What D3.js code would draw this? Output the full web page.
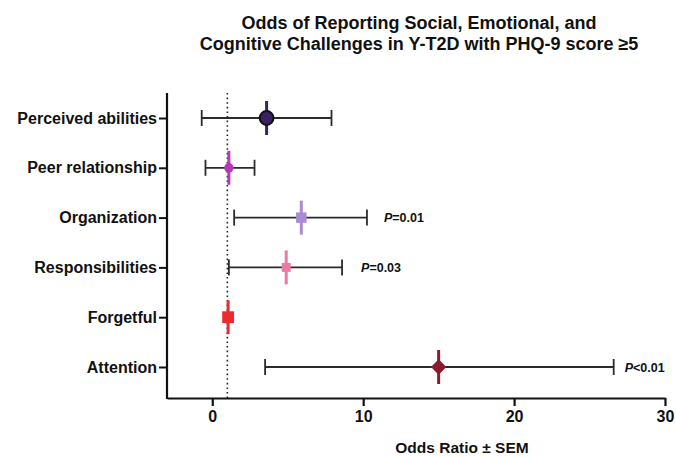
<!DOCTYPE html>
<html>
<head>
<meta charset="utf-8">
<script src="https://cdn.jsdelivr.net/npm/d3@7/dist/d3.min.js"></script>
<style>
  body { margin: 0; background: #fff; }
  svg text { font-family: "Liberation Sans", Arial, sans-serif; }
</style>
</head>
<body>
<div id="chart"></div>
<script>
// Data
const categories = ["Perceived abilities", "Peer relationship", "Organization", "Responsibilities", "Forgetful", "Attention"];
const oddsRatio = [3.6, 1.1, 5.9, 4.9, 1.05, 15.0];
const lowerErr = [-0.7, -0.45, 1.45, 1.1, 1.05, 3.5];
const upperErr = [7.9, 2.8, 10.25, 8.6, 1.05, 26.6];
const pLabels = ["", "", "=0.01", "=0.03", "", "<0.01"];
const markerShapes = ["circle", "circle", "square", "square", "square", "diamond"];
const markerColors = ["#3a2163", "#b53ab6", "#ab8ad4", "#ec7aa6", "#ee2a2f", "#8a1b2c"];
const xTicks = [0, 10, 20, 30];

const width = 676, height = 457;

const svg = d3.select("#chart").append("svg")
  .attr("width", width)
  .attr("height", height);

// scales
const xScale = d3.scaleLinear().domain([-3, 30]).range([167, 665]);
const yScale = d3.scalePoint().domain(categories).range([118, 367]);

const axisY0 = 93, axisY1 = 398;

// title
const title = svg.append("text")
  .attr("text-anchor", "middle")
  .attr("font-size", "18px")
  .attr("font-weight", "bold")
  .attr("fill", "#111");
title.append("tspan").attr("x", 419).attr("y", 29).text("Odds of Reporting Social, Emotional, and");
title.append("tspan").attr("x", 419).attr("y", 50).text("Cognitive Challenges in Y-T2D with PHQ-9 score \u22655");

// reference line at OR = 1
svg.append("line")
  .attr("x1", xScale(1)).attr("x2", xScale(1))
  .attr("y1", axisY0).attr("y2", axisY1)
  .attr("stroke", "#222")
  .attr("stroke-width", 1.6)
  .attr("stroke-dasharray", "1.6,3");

// x axis
const xAxis = svg.append("g")
  .attr("transform", `translate(0, ${axisY1})`)
  .call(d3.axisBottom(xScale).tickValues(xTicks).tickSize(8).tickPadding(5).tickSizeOuter(0));
xAxis.select(".domain").attr("stroke", "#111").attr("stroke-width", 2.2);
xAxis.selectAll(".tick line").attr("stroke", "#111").attr("stroke-width", 2.2);
xAxis.selectAll(".tick text")
  .attr("font-size", "16px")
  .attr("font-weight", "bold")
  .attr("fill", "#111");

// y axis
const yAxis = svg.append("g")
  .attr("transform", `translate(${xScale(-3)}, 0)`)
  .call(d3.axisLeft(yScale).tickSize(8).tickPadding(2));
yAxis.select(".domain").remove();
yAxis.append("line")
  .attr("x1", 0).attr("x2", 0)
  .attr("y1", axisY0).attr("y2", axisY1 + 1)
  .attr("stroke", "#111").attr("stroke-width", 2.2);
yAxis.selectAll(".tick line").attr("stroke", "#111").attr("stroke-width", 2);
yAxis.selectAll(".tick text")
  .attr("font-size", "16px")
  .attr("font-weight", "bold")
  .attr("fill", "#111");

// x axis title
svg.append("text")
  .attr("x", 462)
  .attr("y", 453)
  .attr("text-anchor", "middle")
  .attr("font-size", "15.5px")
  .attr("font-weight", "bold")
  .attr("fill", "#111")
  .text("Odds Ratio \u00b1 SEM");

const pOffsets = [0, 0, 17, 19, 0, 11];

const rows = categories.map((c, i) => ({
  cat: c, or: oddsRatio[i], lo: lowerErr[i], hi: upperErr[i],
  p: pLabels[i], off: pOffsets[i], shape: markerShapes[i], color: markerColors[i]
}));

// error bars
const bars = svg.append("g").selectAll("g")
  .data(rows.filter(d => d.hi > d.lo))
  .enter().append("g")
  .attr("stroke", "#2b2b2b")
  .attr("stroke-width", 1.8);
bars.append("line")
  .attr("x1", d => xScale(d.lo)).attr("x2", d => xScale(d.hi))
  .attr("y1", d => yScale(d.cat)).attr("y2", d => yScale(d.cat));
bars.append("line")
  .attr("x1", d => xScale(d.lo)).attr("x2", d => xScale(d.lo))
  .attr("y1", d => yScale(d.cat) - 8).attr("y2", d => yScale(d.cat) + 8);
bars.append("line")
  .attr("x1", d => xScale(d.hi)).attr("x2", d => xScale(d.hi))
  .attr("y1", d => yScale(d.cat) - 8).attr("y2", d => yScale(d.cat) + 8);

// vertical stems through markers
svg.append("g").selectAll("line")
  .data(rows)
  .enter().append("line")
  .attr("x1", d => xScale(d.or)).attr("x2", d => xScale(d.or))
  .attr("y1", d => yScale(d.cat) - 17).attr("y2", d => yScale(d.cat) + 17)
  .attr("stroke", d => d.color)
  .attr("stroke-width", 3);

// markers
const markerSize = { circle: 150, square: 110, diamond: 150 };
svg.append("g").selectAll("path")
  .data(rows)
  .enter().append("path")
  .attr("transform", d => `translate(${xScale(d.or)}, ${yScale(d.cat)})`)
  .attr("d", (d, i) => {
    const type = d.shape === "circle" ? d3.symbolCircle : d.shape === "square" ? d3.symbolSquare : d3.symbolDiamond2;
    let size = markerSize[d.shape];
    if (i === 1) size = 70;
    if (i === 3) size = 80;
    if (i === 4) size = 140;
    return d3.symbol().type(type).size(size)();
  })
  .attr("fill", d => d.color)
  .attr("stroke", (d, i) => i === 0 ? "#111" : "none")
  .attr("stroke-width", 2);

// p-value labels
const pText = svg.append("g").selectAll("text")
  .data(rows.filter(d => d.p))
  .enter().append("text")
  .attr("x", d => xScale(d.hi) + d.off)
  .attr("y", d => yScale(d.cat) + 4.5)
  .attr("font-size", "12.5px")
  .attr("font-weight", "bold")
  .attr("fill", "#111");
pText.append("tspan").attr("font-style", "italic").text("P");
pText.append("tspan").text(d => d.p);
</script>
</body>
</html>
